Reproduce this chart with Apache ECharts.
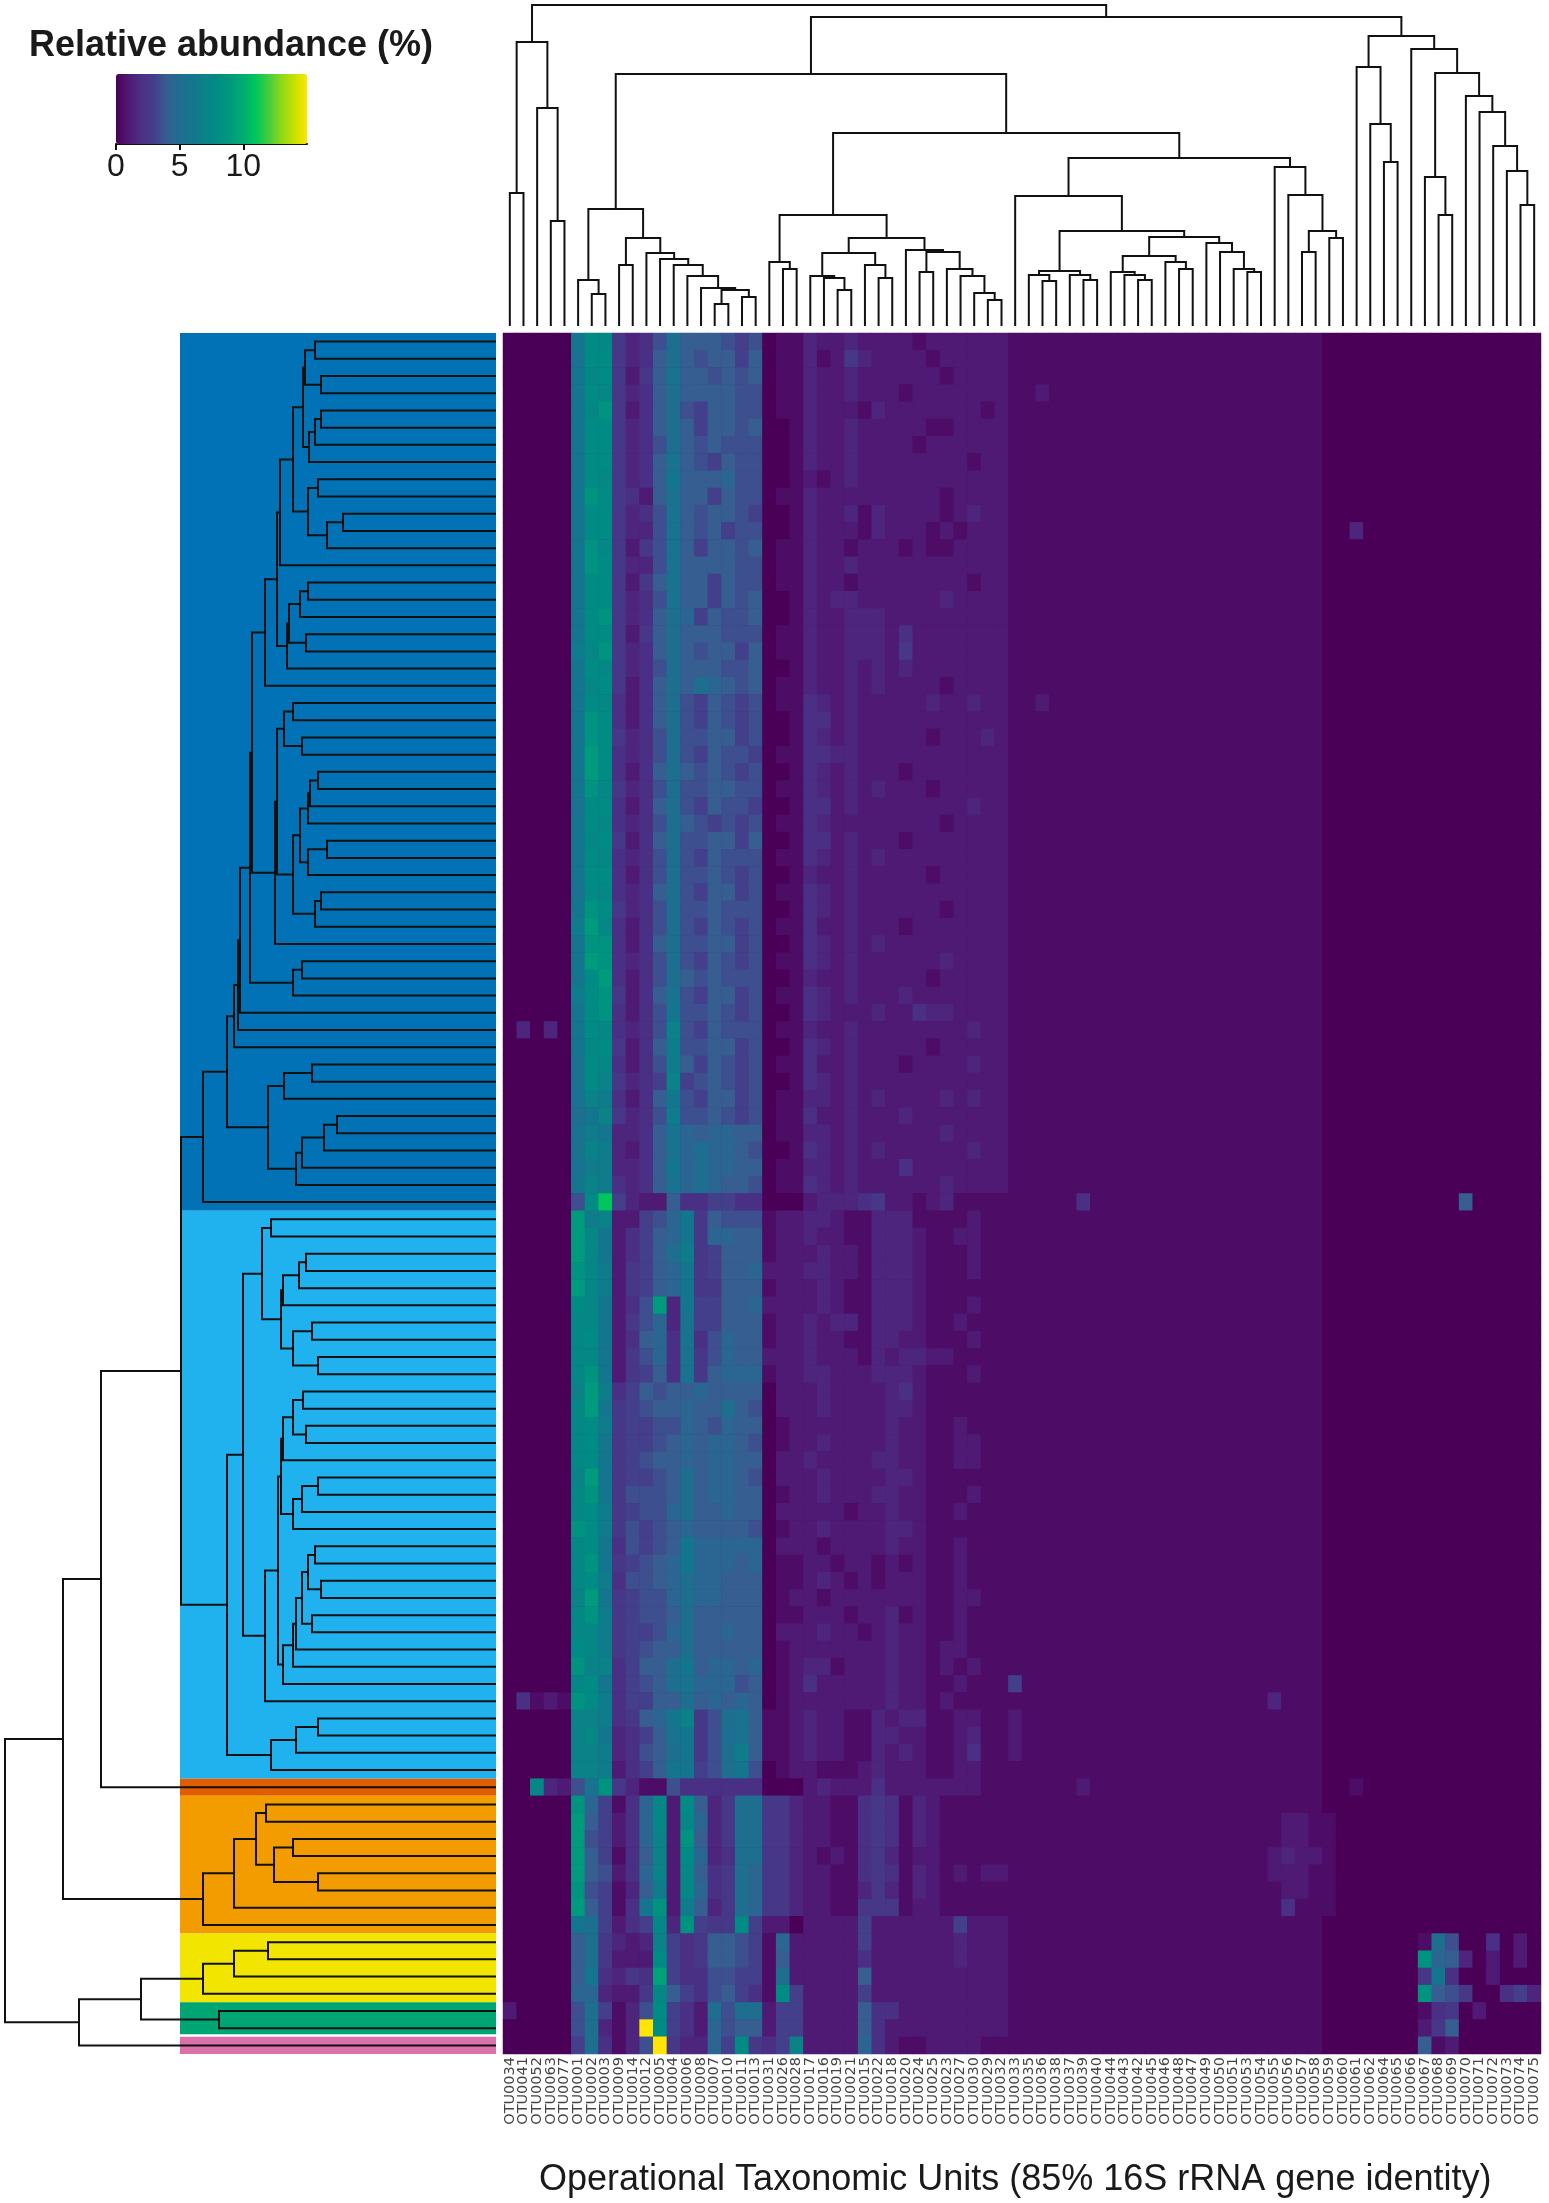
<!DOCTYPE html>
<html>
<head>
<meta charset="utf-8">
<title>Relative abundance heatmap</title>
<script src="https://cdn.jsdelivr.net/npm/echarts@6/dist/echarts.min.js"></script>
<style>html,body{margin:0;padding:0;background:#fff}#c{width:1549px;height:2203px}</style>
</head>
<body>
<div id="c"></div>
<script>
// Each character is one cell: base-36 digit = relative abundance (%) x 2.
// Spaces only group columns: 0-4, 5-7, 8-18, 19-21, 22-36, 37-49, 50-61, 62-75.
const heatRows = [
"00000 cgf 5347a888767 011 322322221222222 1111111111111 111111111100 00000000000000",
"00000 bgg 5348a878868 011 312532222122222 1111111111111 111111111100 00000000000000",
"00000 cfg 5258b887878 011 322322222212222 1111111111111 111111111100 00000000000000",
"00000 cgf 5348a888877 011 322322212222222 1121111111111 111111111100 00000000000000",
"00000 cfh 5248a768877 011 322213222222212 1111111111111 111111111100 00000000000000",
"00000 cgg 5348a868878 001 322322222112222 1111111111111 111111111100 00000000000000",
"00000 cgg 5347a878777 001 322322221222222 1111111111111 111111111100 00000000000000",
"00000 cgg 5348b876877 001 322322222222122 1111111111111 111111111100 00000000000000",
"00000 cgf 5348c888977 001 212322222222222 1111111111111 111111111100 00000000000000",
"00000 chg 5428b886877 011 322222222212222 1111111111111 111111111100 00000000000000",
"00000 cgg 5347b878876 001 322313222212322 1111111111111 111111111100 00000000000000",
"00000 cgg 5337b878677 001 322213222121222 1111111111111 111111111100 30000000000000",
"00000 chf 5257b868878 011 322122212112222 1111111111111 111111111100 00000000000000",
"00000 chg 5337b888877 011 322322222222222 1111111111111 111111111100 00000000000000",
"00000 cgg 5258b886877 011 322122222222122 1111111111111 111111111100 00000000000000",
"00000 cgg 5347b886878 001 323322222232222 1111111111111 111111111100 00000000000000",
"00000 cgh 5348a968778 001 322333222222222 1111111111111 111111111100 00000000000000",
"00000 cgg 5258a888777 011 322333242222222 1111111111111 111111111100 00000000000000",
"00000 dfh 5348a878868 011 322333252222222 1111111111111 111111111100 00000000000000",
"00000 cgf 5347a888778 001 322323232222222 1111111111111 111111111100 00000000000000",
"00000 cfg 5248a8a9878 011 322323222212222 1111111111111 111111111100 00000000000000",
"00000 cgf 4248a768767 011 432322222322322 1121111111111 111111111100 00000000000000",
"00000 chg 4248a768767 001 442322222222222 1111111111111 111111111100 00000000000000",
"00000 chg 5347a778867 001 432322222122232 1111111111111 111111111100 00000000000000",
"00000 cig 4347a768776 011 443322222222222 1111111111111 111111111100 00000000000000",
"00000 cig 4248a878767 001 432322212222222 1111111111111 111111111100 00000000000000",
"00000 chf 5347a778877 011 432323222122222 1111111111111 111111111100 00000000000000",
"00000 bgg 4248a768776 001 442322222222322 1111111111111 111111111100 00000000000000",
"00000 cgf 4347a876767 011 432222222212222 1111111111111 111111111100 00000000000000",
"00000 cfg 5248a778868 001 442322212222222 1111111111111 111111111100 00000000000000",
"00000 cgf 4347a768777 011 432323222222222 1111111111111 111111111100 00000000000000",
"00000 cgg 4247a778767 001 322322222122222 1111111111111 111111111100 00000000000000",
"00000 bgf 4348a768867 011 432322222222222 1111111111111 111111111100 00000000000000",
"00000 chg 5347a778777 001 432322222212222 1111111111111 111111111100 00000000000000",
"00000 dif 4247a768767 011 422322212222222 1111111111111 111111111100 00000000000000",
"00000 chh 4248a778867 001 432323222222222 1111111111111 111111111100 00000000000000",
"00000 cih 4347a768767 011 432322222232222 1111111111111 111111111100 00000000000000",
"00000 cgi 4247a878777 001 322322222122222 1111111111111 111111111100 00000000000000",
"00000 dgh 5248b768867 011 432322232222222 1111111111111 111111111100 00000000000000",
"00000 cgh 4247c778767 001 432223224332222 1111111111111 111111111100 00000000000000",
"03030 cgf 4347e768777 011 322322222222322 1111111111111 111111111100 00000000000000",
"00000 cfg 5248d778867 001 432322222122222 1111111111111 111111111100 00000000000000",
"00000 bgf 4247d868767 011 422322212222322 1111111111111 111111111100 00000000000000",
"00000 bge 5346e678767 001 432322222222222 1111111111111 111111111100 00000000000000",
"00000 bed 4248c768867 011 332323222232322 1111111111111 111111111100 00000000000000",
"00000 ace 5347d778767 011 422322232222222 1111111111111 111111111100 00000000000000",
"00000 bdc 3348b989988 011 332322222232222 1111111111111 111111111100 00000000000000",
"00000 bed 3248b9a9987 001 432323222222322 1111111111111 111111111100 00000000000000",
"00000 bdd 3348c9a9988 011 332322242222222 1111111111111 111111111100 00000000000000",
"00000 ced 4348b9a9887 011 432322222232222 1111111111111 111111111100 00000000000000",
"00000 7gm 63228446644 000 233345221231111 1111141111111 111111111100 00000000800000",
"00000 ide 22679c58777 122 332113331111211 1111111111111 111111111100 00000000000000",
"00000 ifc 24689c59988 122 322113332112211 1111111111111 111111111100 00000000000000",
"00000 ifc 2468ad56888 122 232213332111211 1111111111111 111111111100 00000000000000",
"00000 hfd 25689c56889 222 332213332111211 1111111111111 111111111100 00000000000000",
"00000 ifd 25689c55888 122 232113332111111 1111111111111 111111111100 00000000000000",
"00000 gfc 247i3c66889 222 232113332111211 1111111111111 111111111100 00000000000000",
"00000 ffc 25793b66888 122 323313332112111 1111111111111 111111111100 00000000000000",
"00000 fgc 24894b47988 122 322113322111211 1111111111111 111111111100 00000000000000",
"00000 ffc 25794b57988 222 322213233221111 1111111111111 111111111100 00000000000000",
"00000 fhc 25684b58999 122 332223332111211 1111111111111 111111111100 00000000000000",
"00000 eid 46878898888 022 232222342111111 1111111111111 111111111100 00000000000000",
"00000 fic 56788988a87 022 232222332111111 1111111111111 111111111100 00000000000000",
"00000 fgd 56677987988 012 222222322112111 1111111111111 111111111100 00000000000000",
"00000 fgc 56678989987 012 232222322112211 1111111111111 111111111100 00000000000000",
"00000 fgc 56788989988 022 322223322112211 1111111111111 111111111100 00000000000000",
"00000 eic 56678a89987 022 232222332111111 1111111111111 111111111100 00000000000000",
"00000 fhc 57778a89988 012 232223322111211 1111111111111 111111111100 00000000000000",
"00000 fgd 56779a88988 022 222122322112111 1111111111111 111111111100 00000000000000",
"00000 hgd 57678988887 012 232222332111111 1111111111111 111111111100 00000000000000",
"00000 fgc 47678c99999 022 212222322112111 1111111111111 111111111100 00000000000000",
"00000 fhc 56789c99989 011 221221212112111 1111111111111 111111111100 00000000000000",
"00000 fgd 47789a99888 011 232121222112111 1111111111111 111111111100 00000000000000",
"00000 eic 56779a99888 012 212222222112211 1111111111111 111111111100 00000000000000",
"00000 fhd 56778a88888 011 222122312112111 1111111111111 111111111100 00000000000000",
"00000 ffd 56679a88988 022 232212322112111 1111111111111 111111111100 00000000000000",
"00000 gfd 56788a88888 012 222222322122111 1111111111111 111111111100 00000000000000",
"00000 hee 4688ac89989 012 331222322121211 1111111111111 111111111100 00000000000000",
"00000 fgc 4678ab99978 012 422222322112111 6111111111111 111111111100 00000000000000",
"04121 hgd 46688a89898 012 222222322121111 1111111111111 111111311100 00000000000000",
"00000 eed 4589ce57ab8 112 322113233112211 2111111111111 111111111100 00000000000000",
"00000 efc 3468bc57ab8 112 322113322112311 2111111111111 111111111100 00000000000000",
"00000 eed 3478ac57ad8 112 322113232112411 2111111111111 111111111100 00000000000000",
"00000 eed 2468cc67ac7 012 211123222112211 1111111111111 111111111100 00000000000000",
"00f32 7bh 53117444444 000 232224222222211 1111121111111 111111111100 10000000000000",
"00000 h96 149f2g835aa 553 221145413211111 1111111111111 111111111100 00000000000000",
"00000 i86 249f2f935aa 553 221145413211111 1111111111111 111111122110 00000000000000",
"00000 i76 249e2h835aa 553 221145413211111 1111111111111 111111122110 00000000000000",
"00000 i86 148e2g934aa 553 212145312211111 1111111111111 111111232210 00000000000000",
"00000 i87 249e2f845a9 553 221145413212122 1111111111111 111111222110 00000000000000",
"00000 h76 138d2f945a9 553 221135313211111 1111111111111 111111122110 00000000000000",
"00000 i86 14ch2d835a9 553 221155512211111 1111111111111 111111141110 00000000000000",
"00000 ca6 246f3h655g6 220 222262222226222 1111111111111 111111111100 00000000000000",
"00000 8a5 323e6458876 192 222262222223222 1111111111111 111111111100 000001a7004020",
"00000 8a5 222g6458876 182 222242222223222 1111111111111 111111111100 00000h98302020",
"00000 8c4 354j6447766 1a2 222282222222222 1111111111111 111111111100 000005c4002000",
"00000 993 225f8647864 1g6 222262222222222 1111111111111 111111111100 00000h87500463",
"20000 7a6 137g642a7aa 266 222284422222222 1111111111111 111111111100 00000145020000",
"00000 7a3 13ug6429788 266 222284222222222 1111111111111 111111111100 00000258000000",
"00000 6a4 137u53396g5 46e 222294211222211 1111111111111 111111111100 00000812000000"
];
const leaf = 0;

// Left dendrogram: [merge height, upper child, lower child]; leaf = one row.
const darkA = [193, [191, [181, leaf, leaf], [175, leaf, leaf]], [187, [181, [175, leaf, leaf], leaf], leaf]];
const darkC = [188, [178, leaf, leaf], [169, [153, leaf, leaf], leaf]];
const darkE = [216, [203, darkA, darkC], leaf];
const darkG = [209, [207, [196, [188, leaf, leaf], leaf], [190, leaf, leaf]], leaf];
const darkJ = [231, [219, darkE, darkG], leaf];
const darkK = [212, [203, leaf, leaf], [194, leaf, leaf]];
const darkP = [196, [188, [186, [178, leaf, leaf], leaf], leaf], [188, [169, leaf, leaf], leaf]];
const darkS = [181, [175, leaf, leaf], leaf];
const darkN = [221, [219, darkK, [203, darkP, darkS]], leaf];
const darkT = [203, [194, leaf, leaf], leaf];
const darkX = [246, [244, darkJ, darkN], darkT];
const darkY = [262, [258, [256, darkX, leaf], leaf], leaf];
const darkAA = [228, [212, [184, leaf, leaf], leaf], [200, [194, [172, [159, leaf, leaf], leaf], leaf], leaf]];
const darkTree = [293, [269, darkY, darkAA], leaf];

const skyB = [215, [213, [197, [190, leaf, leaf], leaf], leaf], [203, [184, leaf, leaf], [178, leaf, leaf]]];
const skyA = [234, [225, leaf, leaf], skyB];
const skyC = [215, [213, [203, [193, leaf, leaf], [190, leaf, leaf]], leaf], [203, [194, [178, leaf, leaf], leaf], leaf]];
const skyD = [188, [181, leaf, leaf], [175, leaf, leaf]];
const skyE = [213, [203, [200, [194, skyD, [184, leaf, leaf]], leaf], leaf], leaf];
const skyF = [231, [218, skyC, skyE], leaf];
const skyG = [225, [200, [178, leaf, leaf], leaf], leaf];
const skyTree = [269, [253, skyA, skyF], skyG];

const orangeTree = [293, [262, [240, [230, leaf, leaf], [222, [203, leaf, leaf], [178, leaf, leaf]]], leaf], leaf];
const yellowTree = [293, [262, [228, leaf, leaf], leaf], leaf];
const greenTree = [277, leaf, leaf];
const leftTree = [491,
  [433, [395, [315, darkTree, skyTree], leaf], orangeTree],
  [417, [355, yellowTree, greenTree], leaf]];

// Top dendrogram: [merge height, left child, right child]; leaf = one column.
const topA = [284, [133, leaf, leaf], [218, leaf, [105, leaf, leaf]]];
const topB = [117, [46, leaf, [32, leaf, leaf]],
  [88, [61, leaf, leaf], [73, leaf, [67, leaf, [61, leaf, [50, leaf, [38, leaf, [36, [22, leaf, leaf], [29, leaf, leaf]]]]]]]]];
const topC = [111, [64, leaf, [57, leaf, leaf]],
  [88, [73, [50, leaf, [48, leaf, [36, leaf, leaf]]], [61, leaf, [48, leaf, leaf]]],
       [76, leaf, [74, [54, leaf, leaf], [57, leaf, [50, leaf, [33, leaf, [26, leaf, leaf]]]]]]]];
const topD = [130, leaf, [95, [55, [51, leaf, [45, leaf, leaf]], [51, leaf, [46, leaf, leaf]]],
  [89, [70, [54, leaf, [51, leaf, [46, leaf, leaf]]], [64, leaf, [57, leaf, leaf]]],
       [83, leaf, [74, leaf, [57, leaf, [54, leaf, leaf]]]]]]];
const topE = [159, leaf, [131, leaf, [95, [74, leaf, leaf], [88, leaf, leaf]]]];
const topF = [259, leaf, [202, leaf, [164, leaf, leaf]]];
const topG = [277, leaf, [253, [149, leaf, [111, leaf, leaf]],
  [230, leaf, [214, leaf, [180, leaf, [155, leaf, [121, leaf, leaf]]]]]]];
const topTree = [321, topA,
  [309, [252, topB, [193, topC, [168, topD, topE]]], [290, topF, topG]]];

// Row clusters: first row, end row, colour.
const groupStart = [0, 51, 84, 85, 93, 97, 99];
const groupEnd = [51, 84, 85, 93, 97, 98.85, 100];
const groupColors = ['#0072b5', '#20b2ee', '#e25c00', '#f39c00', '#f2e600', '#00a574', '#dc70aa'];
const groupBandHeight = 316;

const paletteStops = ['#4a0057','#4f1a74','#4a3084','#433f8a','#365e91','#1e6e90','#14768e','#0a8288',
                      '#008c84','#009a7c','#00ac70','#00c65c','#45cc3e','#90d818','#c8e000','#ffe600'];
const legendTicks = [0, 5, 10];
const legendTitle = 'Relative abundance (%)';
const columnAxisTitle = 'Operational Taxonomic Units (85% 16S rRNA gene identity)';
const columnNumbers = [34,41,52,63,77,1,2,3,9,14,12,5,4,6,8,7,10,11,13,31,26,28,17,16,19,21,15,22,18,20,24,25,23,27,30,29,32,
  33,35,36,38,37,39,40,44,43,42,45,46,48,47,49,50,51,53,54,55,56,57,58,59,60,61,62,64,65,66,67,68,69,70,71,72,73,74,75];
const columnLabels = columnNumbers.map(n => 'OTU' + String(n).padStart(4, '0'));
const rowLabels = heatRows.map((_, i) => 'S' + (i + 1));

const heatData = [];
heatRows.forEach((row, r) => {
  const cells = row.replace(/ /g, '');
  if (cells.length !== 76) console.warn('row', r, cells.length);
  for (let c = 0; c < 76; c++) heatData.push([c, r, parseInt(cells[c] || '0', 36) / 2]);
});

function flatten(node, state, out) {
  if (node === leaf) return { pos: state.next++, h: 0 };
  const a = flatten(node[1], state, out), b = flatten(node[2], state, out);
  out.push([node[0], a.pos, b.pos, a.h, b.h]);
  return { pos: (a.pos + b.pos) / 2, h: node[0] };
}
const leftSegs = []; flatten(leftTree, { next: 0 }, leftSegs);
const topSegs = []; flatten(topTree, { next: 0 }, topSegs);

const lineStyle = { fill: 'none', stroke: '#111', lineWidth: 2 };
function leftBracket(params, api) {
  const h = api.value(0), a = api.value(1), b = api.value(2), ha = api.value(3), hb = api.value(4);
  return { type: 'polyline', silent: true, style: lineStyle, shape: { points: [
    api.coord([ha, a]), api.coord([h, a]), api.coord([h, b]), api.coord([hb, b]) ] } };
}
function topBracket(params, api) {
  const h = api.value(0), a = api.value(1), b = api.value(2), ha = api.value(3), hb = api.value(4);
  return { type: 'polyline', silent: true, style: lineStyle, shape: { points: [
    api.coord([a, ha]), api.coord([a, h]), api.coord([b, h]), api.coord([b, hb]) ] } };
}
function bandRect(params, api) {
  const p0 = api.coord([groupBandHeight, api.value(0) - 0.5]);
  const p1 = api.coord([0, api.value(1) - 0.5]);
  return { type: 'rect', silent: true, shape: { x: p0[0], y: p0[1], width: p1[0] - p0[0], height: p1[1] - p0[1] },
           style: { fill: groupColors[params.dataIndex] } };
}

const FONT = '"Liberation Sans", Arial, sans-serif';
const chart = echarts.init(document.getElementById('c'), null, { renderer: 'canvas' });
chart.setOption({
  animation: false,
  backgroundColor: '#ffffff',
  title: [{
    text: legendTitle, left: 29, top: 28, padding: 0,
    textStyle: { fontFamily: FONT, fontSize: 36, fontWeight: 'bold', color: '#1a1a1a' }
  }, {
    text: columnAxisTitle, left: 539, top: 2162, padding: 0,
    textStyle: { fontFamily: FONT, fontSize: 36, fontWeight: 'normal', color: '#1a1a1a' }
  }],
  grid: [
    { left: 503, top: 333, width: 1038, height: 1721, show: true, backgroundColor: '#4a0057', borderWidth: 0 },
    { left: 5, top: 333, width: 491, height: 1721 },
    { left: 503, top: 5, width: 1038, height: 321 },
    { left: 116, top: 74, width: 191, height: 70 }
  ],
  xAxis: [
    { gridIndex: 0, type: 'category', data: columnLabels, position: 'bottom',
      axisLine: { show: false }, axisTick: { show: false }, splitLine: { show: false },
      axisLabel: { interval: 0, rotate: 90, fontSize: 14.5, margin: 3, color: '#444', fontFamily: '"DejaVu Sans", sans-serif' } },
    { gridIndex: 1, type: 'value', min: 0, max: 491, inverse: true, show: false },
    { gridIndex: 2, type: 'value', min: -0.5, max: 75.5, show: false },
    { gridIndex: 3, type: 'value', min: 0, max: 15, interval: 5, position: 'bottom',
      axisLine: { show: true, onZero: false, lineStyle: { color: '#111', width: 2 } },
      axisTick: { show: true, length: 6, customValues: legendTicks, lineStyle: { color: '#111', width: 2 } },
      axisLabel: { customValues: legendTicks, fontSize: 32, margin: 7, color: '#1a1a1a', fontFamily: FONT },
      splitLine: { show: false } }
  ],
  yAxis: [
    { gridIndex: 0, type: 'category', data: rowLabels, inverse: true, show: false },
    { gridIndex: 1, type: 'value', min: -0.5, max: 99.5, inverse: true, show: false },
    { gridIndex: 2, type: 'value', min: 0, max: 321, show: false },
    { gridIndex: 3, type: 'value', min: 0, max: 1, show: false }
  ],
  visualMap: {
    type: 'continuous', seriesIndex: 0, min: 0, max: 15, orient: 'horizontal',
    left: 116, top: 74, padding: 0, itemWidth: 70, itemHeight: 191,
    calculable: false, hoverLink: false, text: null, borderWidth: 0,
    inRange: { color: paletteStops }
  },
  series: [
    { type: 'heatmap', xAxisIndex: 0, yAxisIndex: 0, data: heatData, silent: true,
      itemStyle: { borderWidth: 0 }, emphasis: { disabled: true }, progressive: 0 },
    { type: 'custom', xAxisIndex: 1, yAxisIndex: 1, z: 1, silent: true, renderItem: bandRect,
      data: groupStart.map((s, i) => [s, groupEnd[i]]) },
    { type: 'custom', xAxisIndex: 1, yAxisIndex: 1, z: 3, silent: true, renderItem: leftBracket, data: leftSegs },
    { type: 'custom', xAxisIndex: 2, yAxisIndex: 2, z: 3, silent: true, renderItem: topBracket, data: topSegs },
    { type: 'line', xAxisIndex: 3, yAxisIndex: 3, data: [], silent: true }
  ]
});
</script>
</body>
</html>
